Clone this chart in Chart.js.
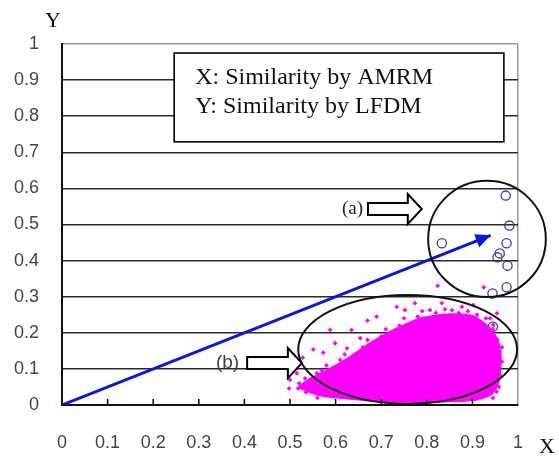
<!DOCTYPE html>
<html lang="en">
<head>
  <meta charset="UTF-8">
  <title>Similarity AMRM vs LFDM</title>
  <script src="https://cdn.jsdelivr.net/npm/chart.js"></script>
  <style>
    html, body { margin: 0; padding: 0; background: #fff; }
    .wrap { width: 559px; height: 456px; position: relative; }
  </style>
</head>
<body>
<div class="wrap"><canvas id="simChart" width="559" height="456"></canvas></div>

<script>
  // tick values / labels
  const xTicks = [0, 0.1, 0.2, 0.3, 0.4, 0.5, 0.6, 0.7, 0.8, 0.9, 1];
  const yTicks = [0, 0.1, 0.2, 0.3, 0.4, 0.5, 0.6, 0.7, 0.8, 0.9, 1];
  const tickLabels = ['0', '0.1', '0.2', '0.3', '0.4', '0.5', '0.6', '0.7', '0.8', '0.9', '1'];

  // group (a): blue open circles
  const groupA = [
    {x: 0.973, y: 0.580}, {x: 0.981, y: 0.497}, {x: 0.833, y: 0.448},
    {x: 0.975, y: 0.448}, {x: 0.960, y: 0.420}, {x: 0.955, y: 0.409},
    {x: 0.977, y: 0.386}, {x: 0.975, y: 0.326}, {x: 0.944, y: 0.309},
    {x: 0.945, y: 0.217}
  ];

  // group (b): outline of the dense magenta core
  const coreOutline = [
    {x: 0.52, y: 0.05}, {x: 0.55, y: 0.075}, {x: 0.59, y: 0.10}, {x: 0.63, y: 0.13},
    {x: 0.67, y: 0.165}, {x: 0.71, y: 0.195}, {x: 0.75, y: 0.22}, {x: 0.79, y: 0.24},
    {x: 0.85, y: 0.25}, {x: 0.90, y: 0.245}, {x: 0.93, y: 0.22}, {x: 0.95, y: 0.19},
    {x: 0.96, y: 0.15}, {x: 0.96, y: 0.10}, {x: 0.955, y: 0.06}, {x: 0.94, y: 0.03},
    {x: 0.90, y: 0.015}, {x: 0.80, y: 0.01}, {x: 0.70, y: 0.012}, {x: 0.62, y: 0.02},
    {x: 0.56, y: 0.03}, {x: 0.52, y: 0.05}
  ];

  // group (b): scattered magenta points around the core
  const groupB = [
    {x: 0.588, y: 0.208}, {x: 0.670, y: 0.234}, {x: 0.635, y: 0.208}, {x: 0.551, y: 0.154},
    {x: 0.573, y: 0.145}, {x: 0.599, y: 0.171}, {x: 0.625, y: 0.157}, {x: 0.498, y: 0.114},
    {x: 0.528, y: 0.131}, {x: 0.533, y: 0.074}, {x: 0.515, y: 0.088}, {x: 0.498, y: 0.046},
    {x: 0.518, y: 0.046}, {x: 0.537, y: 0.042}, {x: 0.595, y: 0.046}, {x: 0.559, y: 0.088},
    {x: 0.654, y: 0.185}, {x: 0.690, y: 0.245}, {x: 0.734, y: 0.272}, {x: 0.824, y: 0.330},
    {x: 0.774, y: 0.282}, {x: 0.752, y: 0.263}, {x: 0.833, y: 0.282}, {x: 0.877, y: 0.272},
    {x: 0.902, y: 0.277}, {x: 0.925, y: 0.326}, {x: 0.954, y: 0.254}, {x: 0.946, y: 0.222},
    {x: 0.939, y: 0.240}, {x: 0.953, y: 0.125}, {x: 0.957, y: 0.088}, {x: 0.953, y: 0.037},
    {x: 0.935, y: 0.037}, {x: 0.855, y: 0.263}, {x: 0.807, y: 0.263},
    {x: 0.57, y: 0.095}, {x: 0.58, y: 0.11}, {x: 0.61, y: 0.125}, {x: 0.62, y: 0.14},
    {x: 0.66, y: 0.16}, {x: 0.67, y: 0.18}, {x: 0.70, y: 0.19}, {x: 0.71, y: 0.21},
    {x: 0.74, y: 0.22}, {x: 0.75, y: 0.24}, {x: 0.78, y: 0.245}, {x: 0.79, y: 0.26},
    {x: 0.82, y: 0.255}, {x: 0.84, y: 0.265}, {x: 0.87, y: 0.255}, {x: 0.89, y: 0.26},
    {x: 0.91, y: 0.25}, {x: 0.93, y: 0.24}, {x: 0.945, y: 0.21}, {x: 0.955, y: 0.18},
    {x: 0.965, y: 0.16}, {x: 0.965, y: 0.12}, {x: 0.962, y: 0.08}, {x: 0.958, y: 0.05},
    {x: 0.945, y: 0.02}, {x: 0.52, y: 0.06}, {x: 0.535, y: 0.035}, {x: 0.56, y: 0.02},
    {x: 0.50, y: 0.07}
  ];

  // blue trend arrow, from origin to its tip
  const trendArrow = [{x: 0, y: 0}, {x: 0.94, y: 0.47}];

  // annotation shapes (data units)
  const ellipseA = {cx: 0.932, cy: 0.46, rx: 0.129, ry: 0.161};
  const ellipseB = {cx: 0.758, cy: 0.154, rx: 0.240, ry: 0.151};
  const arrowA = {x0: 0.671, x1: 0.789, y: 0.543, label: '(a)'};
  const arrowB = {x0: 0.406, x1: 0.526, y: 0.116, label: '(b)'};
  const noteBox = {x0: 0.246, x1: 0.969, y0: 0.975, y1: 0.729};
  const noteLines = ['X: Similarity by AMRM', 'Y: Similarity by LFDM'];

  function blockArrow(ctx, x0, x1, yc) {
    const h1 = 6, h2 = 15, head = 14;
    ctx.beginPath();
    ctx.moveTo(x0, yc - h1);
    ctx.lineTo(x1 - head, yc - h1);
    ctx.lineTo(x1 - head, yc - h2);
    ctx.lineTo(x1, yc);
    ctx.lineTo(x1 - head, yc + h2);
    ctx.lineTo(x1 - head, yc + h1);
    ctx.lineTo(x0, yc + h1);
    ctx.closePath();
    ctx.fillStyle = '#fff';
    ctx.fill();
    ctx.lineWidth = 2;
    ctx.strokeStyle = '#000';
    ctx.stroke();
  }

  const decorPlugin = {
    id: 'decor',
    afterDatasetsDraw(chart) {
      const ctx = chart.ctx;
      const xs = chart.scales.x, ys = chart.scales.y;
      const px = v => xs.getPixelForValue(v);
      const py = v => ys.getPixelForValue(v);
      const area = chart.chartArea;
      ctx.save();

      // tick marks on the x axis, pointing into the plot
      ctx.strokeStyle = '#000';
      ctx.lineWidth = 1.5;
      xTicks.slice(1, -1).forEach(v => {
        ctx.beginPath();
        ctx.moveTo(px(v), area.bottom);
        ctx.lineTo(px(v), area.bottom - 6);
        ctx.stroke();
      });

      // arrowhead of the trend line
      const meta = chart.getDatasetMeta(3);
      const p0 = meta.data[0], p1 = meta.data[1];
      const ang = Math.atan2(p1.y - p0.y, p1.x - p0.x);
      const len = 15, half = 7;
      ctx.fillStyle = '#0a14e6';
      ctx.beginPath();
      ctx.moveTo(p1.x, p1.y);
      ctx.lineTo(p1.x - len * Math.cos(ang) + half * Math.sin(ang), p1.y - len * Math.sin(ang) - half * Math.cos(ang));
      ctx.lineTo(p1.x - len * Math.cos(ang) - half * Math.sin(ang), p1.y - len * Math.sin(ang) + half * Math.cos(ang));
      ctx.closePath();
      ctx.fill();

      // ellipses
      ctx.strokeStyle = '#111';
      ctx.lineWidth = 2;
      [ellipseA, ellipseB].forEach(e => {
        const cx = px(e.cx), cy = py(e.cy);
        const rx = Math.abs(px(e.cx + e.rx) - cx), ry = Math.abs(py(e.cy + e.ry) - cy);
        ctx.beginPath();
        ctx.ellipse(cx, cy, rx, ry, 0, 0, Math.PI * 2);
        ctx.stroke();
      });

      // block arrows and their labels
      blockArrow(ctx, px(arrowA.x0), px(arrowA.x1), py(arrowA.y));
      blockArrow(ctx, px(arrowB.x0), px(arrowB.x1), py(arrowB.y));
      ctx.fillStyle = '#222';
      ctx.textAlign = 'right';
      ctx.textBaseline = 'middle';
      ctx.font = '19px "Liberation Serif", serif';
      ctx.fillText(arrowA.label, px(arrowA.x0) - 5, py(arrowA.y));
      ctx.fillStyle = '#444';
      ctx.font = '19px "Liberation Sans", sans-serif';
      ctx.fillText(arrowB.label, px(arrowB.x0) - 8, py(arrowB.y));

      // note box
      const bx = px(noteBox.x0), by = py(noteBox.y0);
      const bw = px(noteBox.x1) - bx, bh = py(noteBox.y1) - by;
      ctx.fillStyle = '#fff';
      ctx.fillRect(bx, by, bw, bh);
      ctx.strokeStyle = '#000';
      ctx.lineWidth = 1.6;
      ctx.strokeRect(bx, by, bw, bh);
      ctx.fillStyle = '#111';
      ctx.textAlign = 'left';
      ctx.font = '24px "Liberation Serif", serif';
      ctx.fillText(noteLines[0], bx + 21, by + 25);
      ctx.fillText(noteLines[1], bx + 21, by + 54);

      // axis titles
      ctx.fillStyle = '#111';
      ctx.font = '22px "Liberation Serif", serif';
      ctx.textAlign = 'center';
      ctx.fillText('Y', 53, 21);
      ctx.fillText('X', 547, 447);
      ctx.restore();
    }
  };

  const ctx = document.getElementById('simChart').getContext('2d');
  new Chart(ctx, {
    type: 'scatter',
    data: {
      datasets: [{
        label: 'core (b)',
        data: coreOutline,
        showLine: true,
        fill: 'shape',
        tension: 0.2,
        backgroundColor: '#ff00ff',
        borderColor: '#ff00ff',
        borderWidth: 3,
        pointRadius: 0
      }, {
        label: 'group (b)',
        data: groupB,
        pointStyle: 'rectRot',
        pointRadius: 2.4,
        backgroundColor: '#ff00ff',
        borderWidth: 0
      }, {
        label: 'group (a)',
        data: groupA,
        pointRadius: 4.6,
        backgroundColor: 'rgba(0,0,0,0)',
        borderColor: '#3a3aa8',
        borderWidth: 1.3
      }, {
        label: 'trend',
        data: trendArrow,
        showLine: true,
        borderColor: '#0a14e6',
        borderWidth: 3,
        pointRadius: 0
      }]
    },
    options: {
      responsive: false,
      animation: false,
      layout: { padding: { top: 44, right: 41, bottom: 0, left: 0 } },
      plugins: { legend: { display: false }, tooltip: { enabled: false } },
      scales: {
        x: {
          type: 'linear',
          min: 0, max: 1,
          afterBuildTicks: s => { s.ticks = xTicks.map(v => ({ value: v })); },
          afterFit: s => { s.height = 51; },
          ticks: {
            autoSkip: false, maxRotation: 0, padding: 27,
            color: '#444',
            font: { family: '"Liberation Sans", sans-serif', size: 18 },
            callback: (v, i) => tickLabels[i]
          },
          grid: {
            drawTicks: false,
            color: c => (c.tick && c.tick.value === 1) ? '#9a9a9a' : 'rgba(0,0,0,0)',
            lineWidth: 1.5
          },
          border: { color: '#111', width: 2 }
        },
        y: {
          type: 'linear',
          min: 0, max: 1,
          afterBuildTicks: s => { s.ticks = yTicks.map(v => ({ value: v })); },
          afterFit: s => { s.width = 62; },
          ticks: {
            padding: 23,
            color: '#444',
            font: { family: '"Liberation Sans", sans-serif', size: 18 },
            callback: (v, i) => tickLabels[i]
          },
          grid: {
            drawTicks: false,
            color: c => (c.tick && c.tick.value === 1) ? '#9a9a9a' : '#2a2a2a',
            lineWidth: 1.5
          },
          border: { color: '#111', width: 2 }
        }
      }
    },
    plugins: [decorPlugin]
  });
</script>
</body>
</html>
